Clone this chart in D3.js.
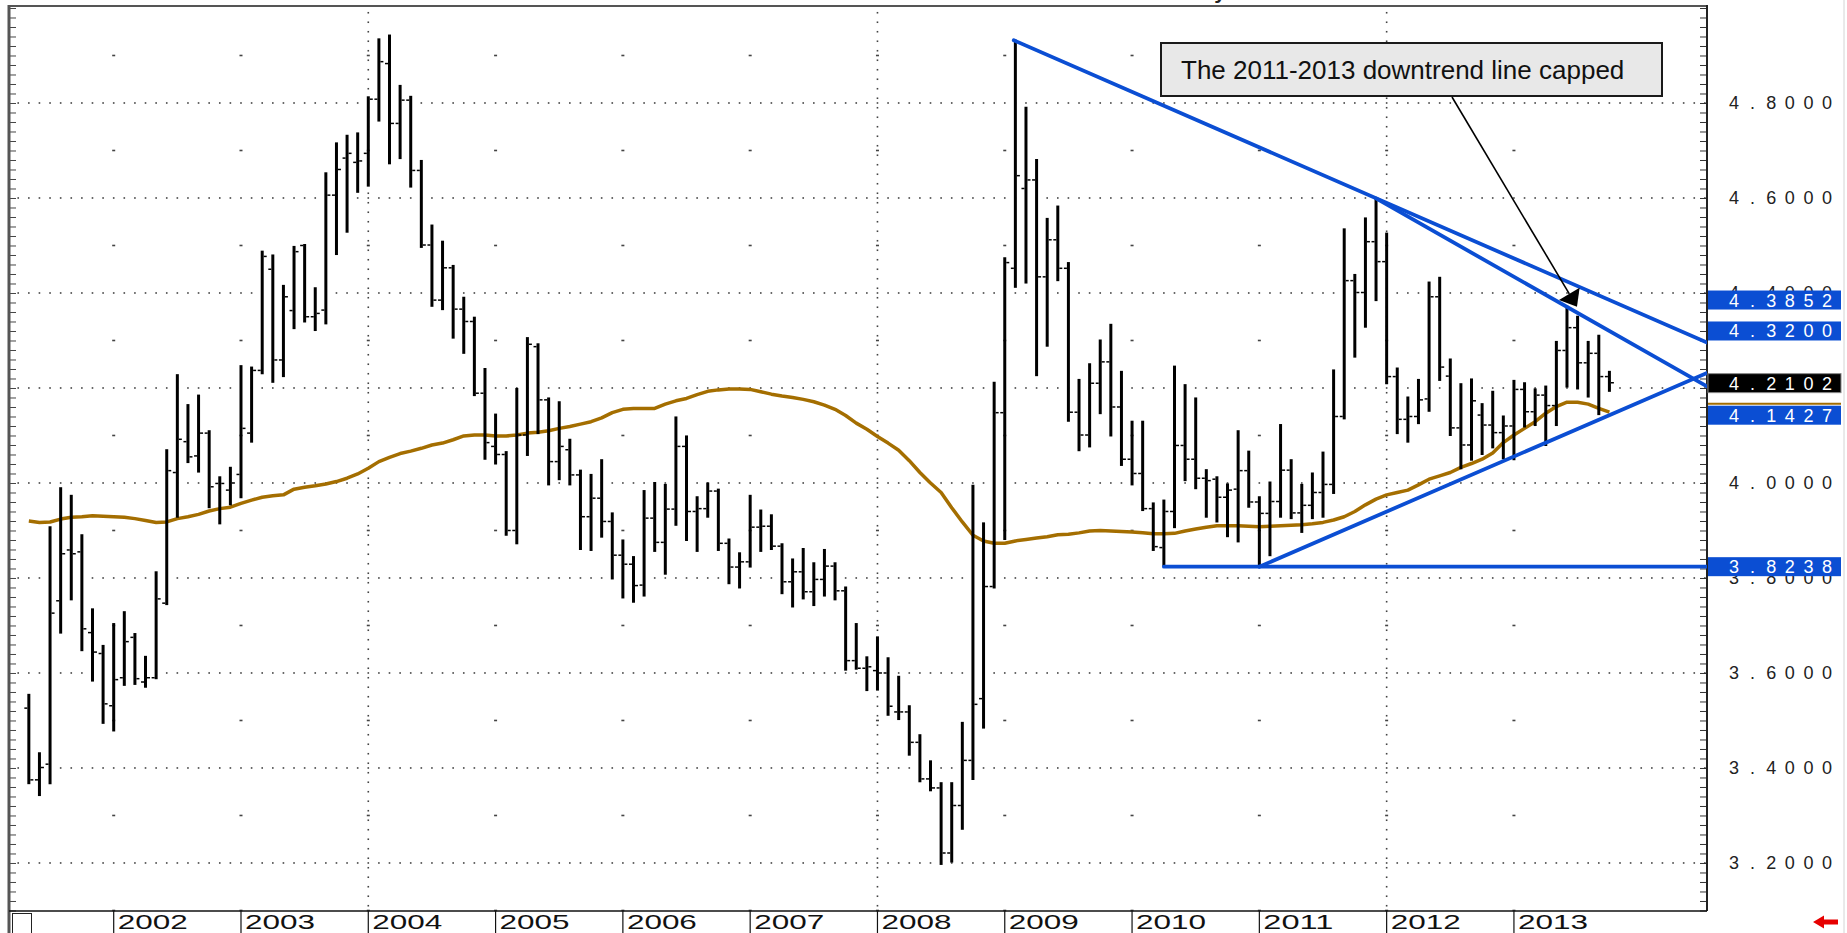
<!DOCTYPE html>
<html>
<head>
<meta charset="utf-8">
<script src="https://cdn.jsdelivr.net/npm/d3@7"></script>
<style>
  body { margin: 0; background: #fff; }
  text { font-family: "Liberation Sans", Arial, sans-serif; }
</style>
</head>
<body>
<div id="chart"></div>
<script>
// Monthly OHLC, May 2001 .. Oct 2013 (one value per month)
const firstMonth = new Date(2001, 4, 1);

const open = [
  3.526, 3.375, 3.408, 3.752, 3.859, 3.855, 3.685, 3.641, 3.531, 3.590,
  3.675, 3.581, 3.590, 3.747, 4.022, 4.087, 4.057, 4.105, 3.999, 3.985,
  4.018, 4.105, 4.237, 4.450, 4.259, 4.363, 4.500, 4.350, 4.364, 4.606,
  4.684, 4.675, 4.694, 4.808, 4.883, 4.757, 4.806, 4.658, 4.501, 4.385,
  4.453, 4.366, 4.340, 4.189, 4.077, 4.060, 3.900, 4.101, 4.287, 4.175,
  4.045, 4.070, 4.017, 3.929, 3.968, 3.919, 3.848, 3.829, 3.785, 3.926,
  3.875, 3.945, 4.077, 3.940, 3.946, 3.983, 3.873, 3.823, 3.834, 3.907,
  3.909, 3.867, 3.792, 3.813, 3.771, 3.797, 3.825, 3.773, 3.626, 3.610,
  3.605, 3.600, 3.518, 3.518, 3.454, 3.377, 3.358, 3.221, 3.321, 3.416,
  3.546, 3.782, 4.148, 4.452, 4.620, 4.638, 4.434, 4.512, 4.452, 4.149,
  4.101, 4.210, 4.255, 4.160, 4.050, 4.020, 3.946, 3.864, 3.940, 4.079,
  4.050, 4.010, 4.008, 3.970, 3.987, 4.026, 3.960, 3.936, 3.961, 4.027,
  3.937, 3.953, 3.980, 3.997, 4.140, 4.426, 4.401, 4.508, 4.466, 4.224,
  4.134, 4.140, 4.177, 4.392, 4.225, 4.116, 4.080, 4.143, 4.122, 4.106,
  4.120, 4.197, 4.150, 4.185, 4.163, 4.279, 4.327, 4.253, 4.273, 4.224
];
const high = [
  3.554, 3.431, 3.907, 3.989, 3.973, 3.890, 3.734, 3.657, 3.703, 3.728,
  3.682, 3.634, 3.812, 4.069, 4.227, 4.164, 4.184, 4.109, 4.012, 4.032,
  4.246, 4.243, 4.487, 4.479, 4.415, 4.497, 4.501, 4.410, 4.652, 4.715,
  4.731, 4.736, 4.812, 4.934, 4.942, 4.836, 4.813, 4.678, 4.542, 4.508,
  4.457, 4.390, 4.348, 4.240, 4.144, 4.065, 4.198, 4.305, 4.292, 4.178,
  4.170, 4.091, 4.026, 4.017, 4.048, 3.936, 3.879, 3.844, 3.983, 4.000,
  3.996, 4.138, 4.098, 3.970, 3.999, 3.986, 3.881, 3.852, 3.973, 3.942,
  3.932, 3.871, 3.839, 3.861, 3.831, 3.859, 3.831, 3.780, 3.703, 3.633,
  3.675, 3.631, 3.592, 3.530, 3.469, 3.414, 3.368, 3.368, 3.495, 3.994,
  3.915, 4.211, 4.473, 4.931, 4.790, 4.680, 4.556, 4.582, 4.463, 4.217,
  4.250, 4.300, 4.333, 4.234, 4.129, 4.129, 3.957, 3.963, 4.245, 4.206,
  4.178, 4.027, 4.012, 3.997, 4.109, 4.066, 3.970, 4.001, 4.122, 4.048,
  3.996, 4.020, 4.064, 4.237, 4.534, 4.438, 4.557, 4.599, 4.525, 4.241,
  4.180, 4.217, 4.422, 4.432, 4.260, 4.208, 4.218, 4.166, 4.192, 4.140,
  4.215, 4.210, 4.197, 4.203, 4.297, 4.371, 4.350, 4.297, 4.310, 4.234
];
const low = [
  3.368, 3.343, 3.368, 3.685, 3.755, 3.648, 3.584, 3.495, 3.479, 3.575,
  3.577, 3.571, 3.589, 3.745, 3.929, 4.044, 4.024, 3.949, 3.915, 3.955,
  3.970, 4.087, 4.231, 4.213, 4.225, 4.326, 4.340, 4.322, 4.336, 4.482,
  4.529, 4.613, 4.626, 4.763, 4.673, 4.684, 4.624, 4.497, 4.373, 4.366,
  4.306, 4.274, 4.185, 4.051, 4.041, 3.891, 3.873, 4.059, 4.105, 3.997,
  4.008, 3.997, 3.861, 3.859, 3.887, 3.799, 3.759, 3.750, 3.763, 3.857,
  3.809, 3.912, 3.880, 3.857, 3.929, 3.859, 3.789, 3.780, 3.824, 3.857,
  3.861, 3.768, 3.740, 3.757, 3.743, 3.763, 3.755, 3.607, 3.609, 3.564,
  3.565, 3.512, 3.503, 3.428, 3.372, 3.353, 3.198, 3.203, 3.272, 3.377,
  3.485, 3.780, 3.882, 4.413, 4.422, 4.227, 4.289, 4.427, 4.131, 4.069,
  4.077, 4.147, 4.100, 4.038, 3.997, 3.943, 3.859, 3.827, 3.907, 4.006,
  3.989, 3.929, 3.919, 3.888, 3.877, 3.950, 3.824, 3.848, 3.929, 3.926,
  3.897, 3.926, 3.929, 3.979, 4.136, 4.266, 4.329, 4.385, 4.210, 4.105,
  4.087, 4.126, 4.152, 4.217, 4.101, 4.031, 4.049, 4.061, 4.075, 4.052,
  4.050, 4.119, 4.122, 4.080, 4.122, 4.203, 4.199, 4.182, 4.145, 4.194
];
const close = [
  3.375, 3.401, 3.726, 3.851, 3.851, 3.693, 3.644, 3.535, 3.586, 3.666,
  3.588, 3.590, 3.756, 4.026, 4.092, 4.055, 4.105, 3.992, 3.999, 4.000,
  4.115, 4.237, 4.477, 4.259, 4.392, 4.487, 4.350, 4.357, 4.606, 4.660,
  4.694, 4.678, 4.808, 4.887, 4.757, 4.806, 4.658, 4.501, 4.385, 4.453,
  4.366, 4.340, 4.189, 4.085, 4.060, 3.900, 4.101, 4.292, 4.175, 4.045,
  4.077, 4.017, 3.929, 3.968, 3.919, 3.848, 3.829, 3.784, 3.926, 3.875,
  3.945, 4.077, 3.940, 3.946, 3.983, 3.873, 3.823, 3.834, 3.907, 3.909,
  3.867, 3.792, 3.813, 3.771, 3.797, 3.825, 3.773, 3.626, 3.610, 3.613,
  3.600, 3.530, 3.518, 3.454, 3.377, 3.358, 3.221, 3.321, 3.416, 3.534,
  3.782, 4.148, 4.464, 4.647, 4.638, 4.434, 4.512, 4.452, 4.149, 4.101,
  4.210, 4.255, 4.160, 4.050, 4.020, 3.946, 3.866, 3.940, 4.079, 4.050,
  4.010, 4.005, 3.970, 3.985, 4.026, 3.960, 3.936, 3.961, 4.027, 3.937,
  3.953, 3.980, 3.997, 4.140, 4.426, 4.401, 4.508, 4.466, 4.224, 4.134,
  4.140, 4.175, 4.392, 4.244, 4.116, 4.080, 4.173, 4.122, 4.106, 4.120,
  4.197, 4.150, 4.185, 4.163, 4.279, 4.327, 4.253, 4.273, 4.224, 4.211
];
// moving average
const movingAvg = [
  3.920, 3.917, 3.918, 3.924, 3.928, 3.929, 3.931, 3.930, 3.929, 3.928,
  3.925, 3.921, 3.917, 3.918, 3.925, 3.929, 3.934, 3.941, 3.946, 3.949,
  3.957, 3.964, 3.970, 3.973, 3.975, 3.987, 3.991, 3.994, 3.998, 4.003,
  4.010, 4.019, 4.031, 4.045, 4.054, 4.062, 4.067, 4.073, 4.080, 4.084,
  4.091, 4.099, 4.101, 4.101, 4.099, 4.099, 4.101, 4.105, 4.107, 4.110,
  4.115, 4.119, 4.124, 4.129, 4.137, 4.148, 4.155, 4.157, 4.157, 4.157,
  4.166, 4.173, 4.178, 4.186, 4.193, 4.196, 4.198, 4.198, 4.197, 4.192,
  4.187, 4.183, 4.180, 4.176, 4.171, 4.164, 4.155, 4.142, 4.126, 4.113,
  4.098, 4.084, 4.069, 4.047, 4.022, 4.000, 3.980, 3.948, 3.918, 3.890,
  3.878, 3.873, 3.873, 3.878, 3.881, 3.884, 3.887, 3.891, 3.892, 3.895,
  3.899, 3.900, 3.899, 3.898, 3.897, 3.895, 3.893, 3.893, 3.894, 3.899,
  3.903, 3.907, 3.910, 3.910, 3.910, 3.909, 3.908, 3.909, 3.910, 3.911,
  3.912, 3.914, 3.917, 3.922, 3.929, 3.940, 3.954, 3.966, 3.975, 3.980,
  3.985, 3.996, 4.008, 4.015, 4.022, 4.033, 4.041, 4.050, 4.063, 4.085,
  4.101, 4.115, 4.129, 4.147, 4.161, 4.170, 4.170, 4.166, 4.157, 4.149
];

const yearLabels = ["2002", "2003", "2004", "2005", "2006", "2007", "2008", "2009", "2010", "2011", "2012", "2013"];
const priceTicks = [3.2, 3.4, 3.6, 3.8, 4.0, 4.2, 4.4, 4.6, 4.8];

// trend lines: [start month index, start value], value at the last bar
const trendStart = [[92.85, 4.932], [127, 4.599], [116, 3.8238], [107, 3.8238]];
const trendAtLast = [4.3852, 4.3200, 4.1427, 3.8238];

// boxed values on the price scale
const markerValues = [4.3852, 4.3200, 4.2102, 4.1427, 3.8238];
const markerKind = ["trend", "trend", "last", "trend", "trend"];
const maMarker = 4.167;

const noteText = "The 2011-2013 downtrend line capped";
const cappedBar = 145;

const width = 1847, height = 933;
const plot = { left: 9, right: 1707, top: 6, bottom: 911 };
const blue = "#0b4ed3", brown = "#a46e00";

const months = d3.timeMonth.range(firstMonth, d3.timeMonth.offset(firstMonth, open.length));
const lastIdx = open.length - 1;

const x = d3.scaleLinear().domain([-1.87, 158.2]).range([plot.left, plot.right]);
const y = d3.scaleLinear().domain([3.0989, 5.0042]).range([plot.bottom, plot.top]);
const yearIndex = yr => months.findIndex(m => m.getFullYear() === +yr && m.getMonth() === 0);

const svg = d3.select("#chart").append("svg")
    .attr("width", width)
    .attr("height", height);

svg.append("defs").append("clipPath").attr("id", "plot-clip")
  .append("rect")
    .attr("x", plot.left).attr("y", plot.top)
    .attr("width", plot.right - plot.left).attr("height", plot.bottom - plot.top);

// title sits above the page, only the descender shows
svg.append("text")
    .attr("x", 1226).attr("y", -1)
    .attr("text-anchor", "end")
    .attr("font-size", 21).attr("font-weight", "bold")
    .attr("fill", "#222")
    .text("Monthly");

// ---- grid ----
const grid = svg.append("g");
const monthSlots = d3.range(-1, 159);

// dotted lines at each 0.2
priceTicks.forEach(v => {
    grid.selectAll(null).data(monthSlots).join("rect")
        .attr("x", d => x(d) - 0.8).attr("y", y(v) - 0.8)
        .attr("width", 1.6).attr("height", 1.6)
        .attr("fill", "#444");
});

// vertical dotted lines every 4 years
["2004", "2008", "2012"].forEach(yr => {
    const xi = x(yearIndex(yr));
    grid.selectAll(null).data(d3.range(311, 501, 2)).join("rect")
        .attr("x", xi - 0.8).attr("y", d => y(d / 100) - 0.8)
        .attr("width", 1.6).attr("height", 1.6)
        .attr("fill", "#444");
});

// small dashes at year starts on the odd tenths
const oddTenths = d3.range(31, 50, 2).map(d => d / 10);
yearLabels.forEach(yr => {
    const xi = x(yearIndex(yr));
    grid.selectAll(null).data(oddTenths).join("rect")
        .attr("x", xi - 1.5).attr("y", d => y(d) - 0.8)
        .attr("width", 3).attr("height", 1.6)
        .attr("fill", "#444");
});

// ---- frame and axes ----
const minorTicks = d3.range(310, 501, 2).map(d => d / 100);

svg.append("line")
    .attr("x1", plot.left - 1).attr("x2", plot.right)
    .attr("y1", plot.top).attr("y2", plot.top)
    .attr("stroke", "#555").attr("stroke-width", 2);

const leftAxis = svg.append("g")
    .attr("transform", `translate(${plot.left},0)`)
    .call(d3.axisRight(y).tickValues(minorTicks).tickSize(7).tickFormat("").tickSizeOuter(0));
leftAxis.select(".domain").remove();
leftAxis.selectAll(".tick line").attr("stroke", "#444");
svg.append("line")
    .attr("x1", plot.left).attr("x2", plot.left)
    .attr("y1", plot.top - 1).attr("y2", height)
    .attr("stroke", "#555").attr("stroke-width", 3);

const rightAxis = svg.append("g")
    .attr("transform", `translate(${plot.right},0)`)
    .call(d3.axisLeft(y).tickValues(minorTicks).tickSize(7).tickFormat("").tickSizeOuter(0));
rightAxis.select(".domain").remove();
rightAxis.selectAll(".tick line").attr("stroke", "#333");
svg.append("line")
    .attr("x1", plot.right).attr("x2", plot.right)
    .attr("y1", plot.top - 1).attr("y2", plot.bottom)
    .attr("stroke", "#222").attr("stroke-width", 2);

// bottom line and year strip
svg.append("line")
    .attr("x1", plot.left).attr("x2", plot.right)
    .attr("y1", plot.bottom).attr("y2", plot.bottom)
    .attr("stroke", "#111").attr("stroke-width", 1.5);

const years = svg.append("g").selectAll("g").data(yearLabels).join("g")
    .attr("transform", d => `translate(${x(yearIndex(d))},0)`);
years.append("line")
    .attr("y1", plot.bottom).attr("y2", height)
    .attr("stroke", "#111").attr("stroke-width", 1.2);
years.append("text")
    .attr("x", 4).attr("y", 929)
    .attr("font-size", 21)
    .attr("textLength", 70).attr("lengthAdjust", "spacingAndGlyphs")
    .attr("fill", "#111")
    .text(d => d);

svg.append("rect")
    .attr("x", 12.5).attr("y", 913.5).attr("width", 19).attr("height", 22)
    .attr("fill", "#fff").attr("stroke", "#222").attr("stroke-width", 1);

// right edge
svg.append("line")
    .attr("x1", 1844).attr("x2", 1844).attr("y1", 0).attr("y2", height)
    .attr("stroke", "#d4d4d4").attr("stroke-width", 1);

// red arrow bottom right
svg.append("path")
    .attr("d", "M1813,922 L1824,915.5 L1824,919.5 L1838,919.5 L1838,924.5 L1824,924.5 L1824,928.5 Z")
    .attr("fill", "#e60000");

// ---- price labels ----
const fmt = d3.format(".4f");
function priceText(g, v, color) {
    const s = fmt(v);
    g.append("text")
        .attr("x", s.split("").map((c, k) => 1734 + k * 18.6).join(" "))
        .attr("y", y(v) + 6.5)
        .attr("text-anchor", "middle")
        .attr("font-size", 18)
        .attr("fill", color)
        .text(s);
}
const labels = svg.append("g");
// a tick label fully hidden by a boxed value is left out
priceTicks
    .filter(v => !markerValues.some(m => Math.abs(m - v) < 0.012))
    .forEach(v => priceText(labels, v, "#222"));

// ---- moving average ----
const chart = svg.append("g").attr("clip-path", "url(#plot-clip)");
chart.append("path")
    .datum(movingAvg)
    .attr("fill", "none")
    .attr("stroke", brown)
    .attr("stroke-width", 3.5)
    .attr("stroke-linejoin", "round")
    .attr("d", d3.line().x((d, i) => x(i)).y(d => y(d)));

// ---- OHLC bars ----
const barData = open.map((o, i) => ({ i, o, h: high[i], l: low[i], c: close[i] }));
const bars = chart.append("g").selectAll("g").data(barData).join("g")
    .attr("transform", d => `translate(${x(d.i)},0)`);
bars.append("line")
    .attr("y1", d => y(d.h) - 1).attr("y2", d => y(d.l) + 1)
    .attr("stroke", "#000").attr("stroke-width", 3);
bars.append("line")
    .attr("x1", -4.5).attr("x2", -1.5)
    .attr("y1", d => y(d.o)).attr("y2", d => y(d.o))
    .attr("stroke", "#000").attr("stroke-width", 1.5);
bars.append("line")
    .attr("x1", 1.5).attr("x2", 4.5)
    .attr("y1", d => y(d.c)).attr("y2", d => y(d.c))
    .attr("stroke", "#000").attr("stroke-width", 1.5);

// ---- trend lines, extended to the right edge ----
const rightIdx = x.domain()[1];
trendStart.forEach(([i0, v0], k) => {
    const slope = (trendAtLast[k] - v0) / (lastIdx - i0);
    chart.append("line")
        .attr("x1", x(i0)).attr("y1", y(v0))
        .attr("x2", x(rightIdx)).attr("y2", y(v0 + slope * (rightIdx - i0)))
        .attr("stroke", blue).attr("stroke-width", 3.8)
        .attr("stroke-linecap", "round");
});

// ---- boxed values ----
markerValues.forEach((v, k) => {
    const isLast = markerKind[k] === "last";
    labels.append("rect")
        .attr("x", 1708).attr("y", y(v) - 9.5)
        .attr("width", 133).attr("height", 19)
        .attr("fill", isLast ? "#000" : blue)
        .attr("stroke", isLast ? "#888" : "none").attr("stroke-width", 1);
    priceText(labels, v, "#fff");
});
labels.append("line")
    .attr("x1", 1708).attr("x2", 1841)
    .attr("y1", y(maMarker)).attr("y2", y(maMarker))
    .attr("stroke", brown).attr("stroke-width", 2);

// ---- annotation ----
const note = svg.append("g");
note.append("rect")
    .attr("x", 1161).attr("y", 43).attr("width", 501).attr("height", 53)
    .attr("fill", "#e8e8e8").attr("stroke", "#1a1a1a").attr("stroke-width", 2);
note.append("text")
    .attr("x", 1181).attr("y", 79)
    .attr("font-size", 26)
    .attr("fill", "#111")
    .text(noteText);

const from = [1452, 97];
const tip = [x(cappedBar) + 10, y(high[cappedBar])];
const dx = tip[0] - from[0], dy = tip[1] - from[1];
const len = Math.hypot(dx, dy);
const ux = dx / len, uy = dy / len;
const base = [tip[0] - 15 * ux, tip[1] - 15 * uy];
note.append("line")
    .attr("x1", from[0]).attr("y1", from[1])
    .attr("x2", base[0]).attr("y2", base[1])
    .attr("stroke", "#000").attr("stroke-width", 1.6);
note.append("path")
    .attr("d", `M${tip[0]},${tip[1]} L${base[0] - 12 * uy},${base[1] + 12 * ux} L${base[0] + 12 * uy},${base[1] - 12 * ux} Z`)
    .attr("fill", "#000");
</script>
</body>
</html>
